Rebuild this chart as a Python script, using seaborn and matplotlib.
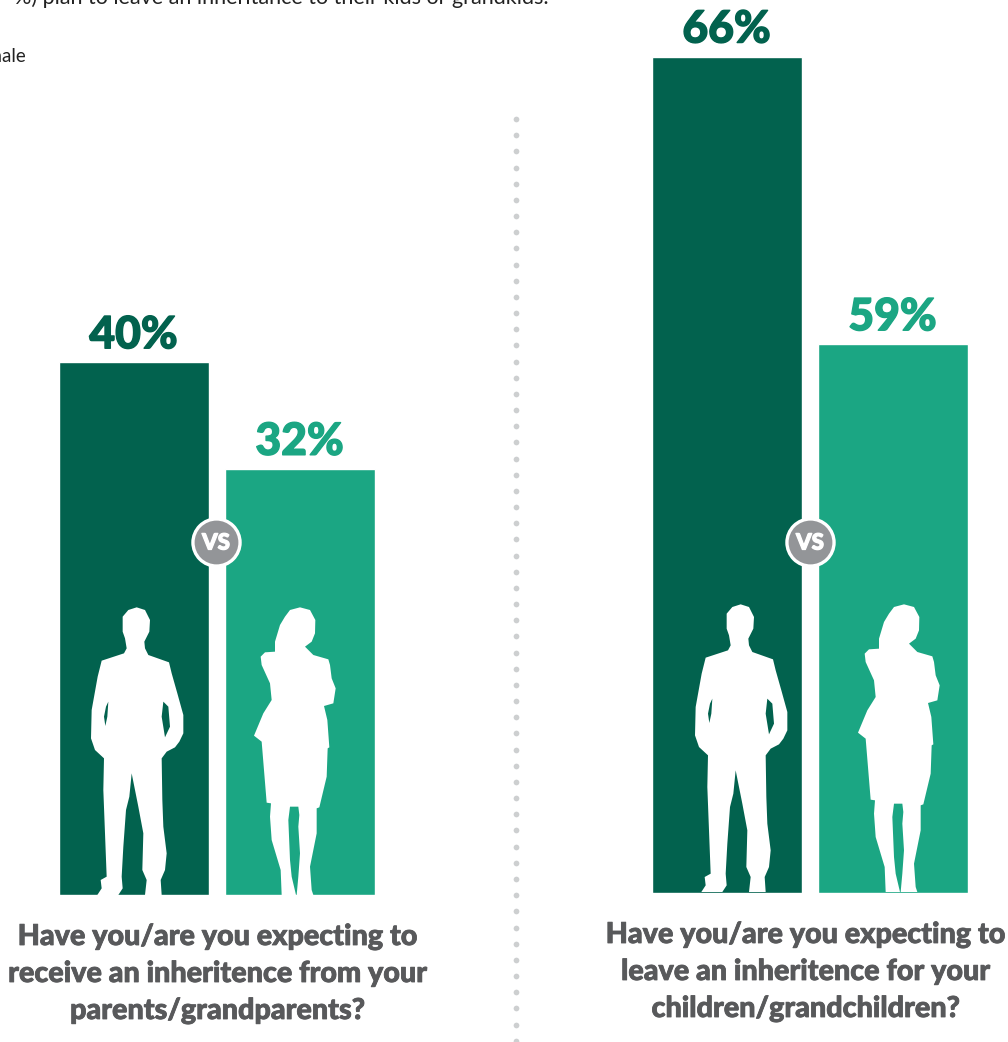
import numpy as np
import pandas as pd
import matplotlib.pyplot as plt
import matplotlib.patheffects as pe
from matplotlib.patches import Polygon
import seaborn as sns

W, H = 1008, 1042

DARK = '#02624E'
LIGHT = '#1BA683'
GREY = '#58595B'

groups = ['Male', 'Female']
# bar lengths as drawn, on the left chart's scale (the right panel is not to scale with its labels)
receive_heights = [40, 32]
leave_heights = [62.8, 41.2]
receive_labels = ['40%', '32%']
leave_labels = ['66%', '59%']
receive_question = ['Have you/are you expecting to', 'receive an inheritence from your', 'parents/grandparents?']
leave_question = ['Have you/are you expecting to', 'leave an inheritence for your', 'children/grandchildren?']

PX_PER_UNIT = 13.32

# silhouettes, pixels
man = np.array([(260, 322), (285, 330), (300, 360), (298, 395), (283, 425), (285, 445), (295, 465), (357, 487),
                (365, 520), (382, 580), (400, 645), (400, 700), (388, 725), (375, 742), (350, 755), (335, 775),
                (337, 900), (340, 980), (350, 1060), (345, 1110), (332, 1140), (335, 1185), (285, 1185), (290, 1140),
                (277, 1110), (280, 1000), (265, 920), (245, 820), (238, 890), (228, 930), (220, 1040), (215, 1130),
                (218, 1165), (205, 1185), (142, 1185), (155, 1165), (152, 1140), (170, 1130), (165, 1000), (160, 870),
                (162, 775), (135, 750), (123, 715), (125, 630), (143, 530), (155, 482), (222, 460), (230, 445),
                (225, 415), (218, 395), (218, 350), (235, 330)]) / 3 + (50, 500)
man_hole_l = np.array([(175, 605), (172, 650), (166, 678), (162, 650), (168, 620)]) / 3 + (50, 500)
man_hole_r = np.array([(340, 605), (355, 620), (360, 680), (345, 712), (335, 650)]) / 3 + (50, 500)
woman = np.array([(750, 322), (780, 330), (796, 360), (795, 400), (785, 425), (765, 440), (790, 465), (835, 478),
                  (840, 495), (845, 535), (857, 565), (850, 610), (822, 618), (832, 660), (838, 742), (833, 745),
                  (830, 830), (808, 922), (800, 925), (800, 1000), (780, 1100), (785, 1170), (790, 1185), (740, 1185),
                  (745, 1130), (750, 1060), (745, 980), (748, 945), (745, 920), (720, 920), (715, 960), (720, 1080),
                  (725, 1130), (738, 1185), (695, 1185), (692, 1110), (665, 1020), (660, 950), (663, 910), (650, 908),
                  (635, 725), (612, 707), (640, 640), (665, 600), (660, 550), (635, 495), (632, 470), (645, 457),
                  (675, 455), (675, 425), (690, 375), (705, 350), (720, 330)]) / 3 + (50, 500)

sns.set_theme(style='white')
plt.rcParams['font.family'] = ['Lato', 'DejaVu Sans']

fig = plt.figure(figsize=(W / 100, H / 100), dpi=100, facecolor='white')


def heavy(col, w=0.7):
    return [pe.withStroke(linewidth=w, foreground=col)]


def panel(left, baseline, heights, labels):
    ax = fig.add_axes([left / W, (H - baseline) / H, 332 / W, baseline / H])
    df = pd.DataFrame({'group': groups, 'value': heights})
    sns.barplot(data=df, x='group', y='value', hue='group', order=groups, hue_order=groups,
                palette=[DARK, LIGHT], width=150 / 166, dodge=False, legend=False, saturation=1, ax=ax)
    ax.set_xlim(-0.5, 1.5)
    ax.set_ylim(0, baseline / PX_PER_UNIT)
    ax.axis('off')
    ax.patch.set_alpha(0)
    for cont, lab, col in zip(ax.containers, labels, [DARK, LIGHT]):
        txts = ax.bar_label(cont, labels=[lab], padding=5, color=col, fontsize=32, fontweight='black')
        txts[0].set_path_effects(heavy(col, 1.0))
    return ax


panel(50.6, 895, receive_heights, receive_labels)
panel(643.6, 893, leave_heights, leave_labels)

# overlay in pixel coordinates for the decoration
over = fig.add_axes([0, 0, 1, 1], zorder=5)
over.set_xlim(0, W)
over.set_ylim(H, 0)
over.axis('off')
over.patch.set_alpha(0)

for dx, dy in [(0, 0), (604, -3)]:
    over.add_patch(Polygon(man + (dx, dy), closed=True, fc='white', ec='none'))
    over.add_patch(Polygon(man_hole_l + (dx, dy), closed=True, fc=DARK, ec='none'))
    over.add_patch(Polygon(man_hole_r + (dx, dy), closed=True, fc=DARK, ec='none'))
    over.add_patch(Polygon(woman + (dx, dy), closed=True, fc='white', ec='none'))

for cx in [216, 810]:
    over.scatter([cx], [542], s=1150, color='#939598', edgecolor='white', linewidth=2.4, zorder=6)
    over.text(cx, 543, 'VS', color='white', fontsize=16, fontweight='black', ha='center', va='center', zorder=7,
              path_effects=heavy('white', 0.9))

over.scatter(np.full(58, 515.5), 119 + 16.17 * np.arange(58), s=17, color='#CDCFD0', linewidth=0)

for lines, cx, base in [(receive_question, 217.5, 945), (leave_question, 805.5, 943)]:
    for i, line in enumerate(lines):
        over.text(cx, base + 37 * i, line, color=GREY, fontsize=20.7, fontweight='black', ha='center', va='baseline',
                  path_effects=heavy(GREY, 0.6))

over.text(549, 4, '%) plan to leave an inheritance to their kids or grandkids.', color='#222222', fontsize=15.5,
          ha='right', va='baseline')
over.text(26, 62, 'Female', color='#222222', fontsize=13.5, ha='right', va='baseline')

fig.savefig('out.png', dpi=100)
